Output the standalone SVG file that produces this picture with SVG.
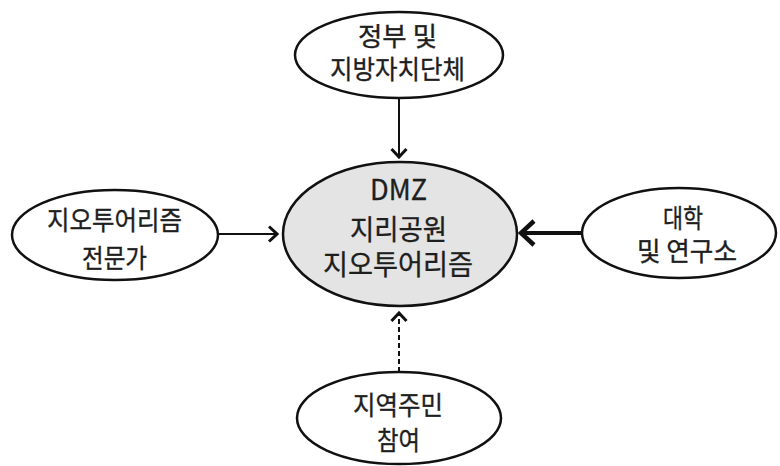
<svg xmlns="http://www.w3.org/2000/svg" width="780" height="466" viewBox="0 0 780 466">
  <defs>
    <style>
      .node { fill: #ffffff; stroke: #111111; stroke-width: 2.5; }
      .hub { fill: #e4e4e4; stroke: #111111; stroke-width: 2.5; }
      .lbl { font-family: "Noto Sans CJK KR", "Noto Sans", sans-serif; font-size: 26px; fill: #1e1e1e; text-anchor: middle; stroke: #1e1e1e; stroke-width: 0.35px; }
      .hubLbl { font-size: 28px; }
      .edge { stroke: #111111; stroke-width: 2; fill: none; }
      .thick { stroke-width: 4; }
      .dash { stroke-dasharray: 5 3; }
    </style>
    <marker id="chev" viewBox="0 0 12 18" refX="10" refY="9" markerWidth="12" markerHeight="18" markerUnits="userSpaceOnUse" orient="auto">
      <path d="M2,1.5 L10,9 L2,16.5" fill="none" stroke="#111111" stroke-width="3"/>
    </marker>
    <marker id="chevBig" viewBox="0 0 18 28" refX="15" refY="14" markerWidth="18" markerHeight="28" markerUnits="userSpaceOnUse" orient="auto">
      <path d="M2,2 L15,14 L2,26" fill="none" stroke="#111111" stroke-width="4.5"/>
    </marker>
  </defs>

  <g id="connectors">
    <line class="edge" x1="399" y1="98" x2="399" y2="157" marker-end="url(#chev)"/>
    <line class="edge" x1="218" y1="234" x2="277" y2="234" marker-end="url(#chev)"/>
    <line class="edge thick" x1="582" y1="233" x2="521" y2="233" marker-end="url(#chevBig)"/>
    <line class="edge dash" x1="399" y1="372" x2="399" y2="313" marker-end="url(#chev)"/>
  </g>

  <g id="hub">
    <ellipse class="hub" cx="400" cy="234" rx="117" ry="72"/>
    <text class="lbl hubLbl" x="398.5" y="200" textLength="57" lengthAdjust="spacingAndGlyphs">DMZ</text>
    <text class="lbl hubLbl" x="398.5" y="240" textLength="97" lengthAdjust="spacingAndGlyphs">지리공원</text>
    <text class="lbl hubLbl" x="398" y="275" textLength="150" lengthAdjust="spacingAndGlyphs">지오투어리즘</text>
  </g>

  <g id="government">
    <ellipse class="node" cx="399" cy="55" rx="104" ry="43"/>
    <text class="lbl" x="397.5" y="46" textLength="79" lengthAdjust="spacingAndGlyphs">정부 및</text>
    <text class="lbl" x="397.5" y="79" textLength="135" lengthAdjust="spacingAndGlyphs">지방자치단체</text>
  </g>

  <g id="experts">
    <ellipse class="node" cx="115" cy="235" rx="103" ry="45"/>
    <text class="lbl" x="114.5" y="230" textLength="135" lengthAdjust="spacingAndGlyphs">지오투어리즘</text>
    <text class="lbl" x="114.5" y="268" textLength="65" lengthAdjust="spacingAndGlyphs">전문가</text>
  </g>

  <g id="universities">
    <ellipse class="node" cx="679" cy="233" rx="97" ry="45"/>
    <text class="lbl" x="683" y="228" textLength="40" lengthAdjust="spacingAndGlyphs">대학</text>
    <text class="lbl" x="687" y="261" textLength="100" lengthAdjust="spacingAndGlyphs">및 연구소</text>
  </g>

  <g id="residents">
    <ellipse class="node" cx="399" cy="418" rx="102" ry="46"/>
    <text class="lbl" x="398" y="415" textLength="90" lengthAdjust="spacingAndGlyphs">지역주민</text>
    <text class="lbl" x="398.5" y="450" textLength="43" lengthAdjust="spacingAndGlyphs">참여</text>
  </g>
</svg>
